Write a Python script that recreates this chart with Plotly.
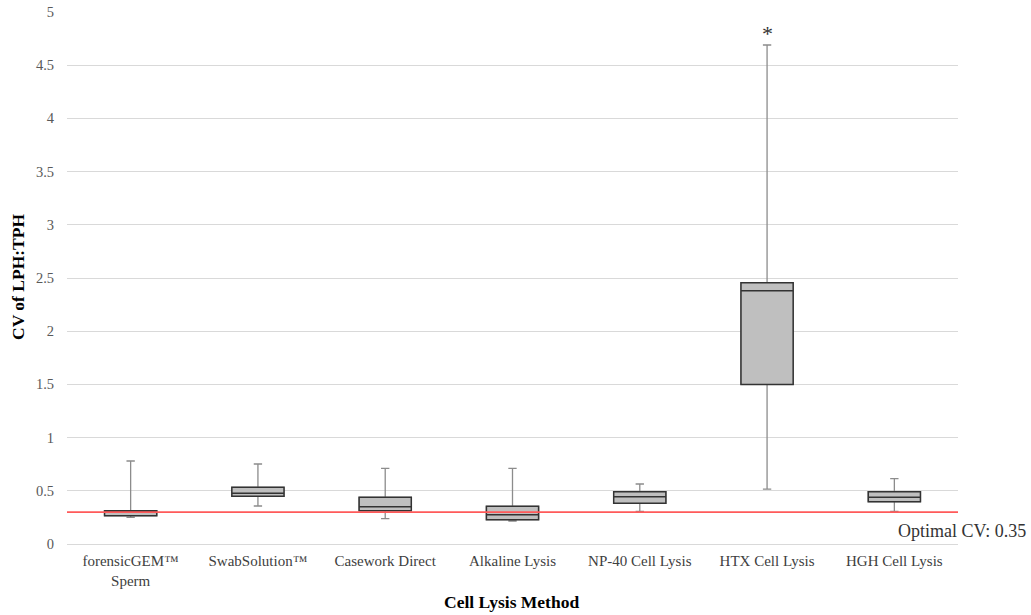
import plotly.graph_objects as go

categories = ["forensicGEM™<br>Sperm", "SwabSolution™", "Casework Direct", "Alkaline Lysis",
              "NP-40 Cell Lysis", "HTX Cell Lysis", "HGH Cell Lysis"]
lower_whisker = [0.25, 0.357, 0.238, 0.216, 0.307, 0.515, 0.307]
q1 = [0.266, 0.448, 0.313, 0.229, 0.382, 1.50, 0.398]
median = [0.298, 0.476, 0.351, 0.276, 0.445, 2.38, 0.439]
q3 = [0.313, 0.533, 0.439, 0.354, 0.492, 2.456, 0.492]
upper_whisker = [0.78, 0.752, 0.711, 0.711, 0.564, 4.69, 0.614]
optimal_cv = 0.30
optimal_label = "Optimal CV: 0.35"
outlier_cat = "HTX Cell Lysis"
outlier_mark_y = 4.80
x_title = "Cell Lysis Method"
y_title = "CV of LPH:TPH"

font = "Liberation Serif"
W, H = 1031, 615
L, R, T, B = 67, 73, 12, 71

fig = go.Figure()
# whiskers (gray)
fig.add_trace(go.Box(
    x=categories, q1=q1, median=median, q3=q3,
    lowerfence=lower_whisker, upperfence=upper_whisker,
    fillcolor="#bfbfbf", line=dict(color="#8c8c8c", width=1.3),
    width=0.41, whiskerwidth=0.16, boxpoints=False, showlegend=False,
    hoverinfo="skip"))
# boxes (dark outline) on top
fig.add_trace(go.Box(
    x=categories, q1=q1, median=median, q3=q3,
    lowerfence=q1, upperfence=q3,
    fillcolor="#bfbfbf", line=dict(color="#333333", width=1.5),
    width=0.41, whiskerwidth=0, boxpoints=False, showlegend=False))

fig.add_shape(type="line", xref="paper", x0=0, x1=1, yref="y", y0=optimal_cv, y1=optimal_cv,
              line=dict(color="#ff5a5a", width=1.6), layer="above")
fig.add_annotation(xref="paper", x=(1028 - L) / (W - L - R), y=optimal_cv - 0.065, yref="y",
                   text=optimal_label, showarrow=False, xanchor="right", yanchor="top",
                   font=dict(family=font, size=18, color="#333333"))
fig.add_annotation(x=outlier_cat, y=outlier_mark_y, text="*", showarrow=False,
                   font=dict(family=font, size=22, color="#333333"))
# axis titles
fig.add_annotation(xref="paper", yref="paper", x=(511 - L) / (W - L - R), y=-(602 - (H - B)) / (H - T - B),
                   text=f"<b>{x_title}</b>", showarrow=False, xanchor="center", yanchor="middle",
                   font=dict(family=font, size=17.5, color="black"))
fig.add_annotation(xref="paper", yref="paper", x=-(67 - 18) / (W - L - R), y=(H - B - 277) / (H - T - B),
                   text=f"<b>{y_title}</b>", showarrow=False, textangle=-90,
                   xanchor="center", yanchor="middle",
                   font=dict(family=font, size=17.5, color="black"))

fig.update_layout(
    width=W, height=H,
    margin=dict(l=L, r=R, t=T, b=B, autoexpand=False),
    plot_bgcolor="white", paper_bgcolor="white",
    boxmode="overlay",
    font=dict(family=font, size=14, color="#595959"),
    xaxis=dict(showgrid=False, showline=False, ticks="", automargin=False,
               tickfont=dict(size=15, color="#404040"), ticklabelstandoff=6,
               range=[-0.5, 6.5]),
    yaxis=dict(range=[0, 5], dtick=0.5, showgrid=True, gridcolor="#d9d9d9", gridwidth=1,
               zeroline=True, zerolinecolor="#d9d9d9", zerolinewidth=1, automargin=False,
               ticks="", tickfont=dict(size=14.5, color="#595959"), ticklabelstandoff=12),
)

fig.write_html("out.html")
